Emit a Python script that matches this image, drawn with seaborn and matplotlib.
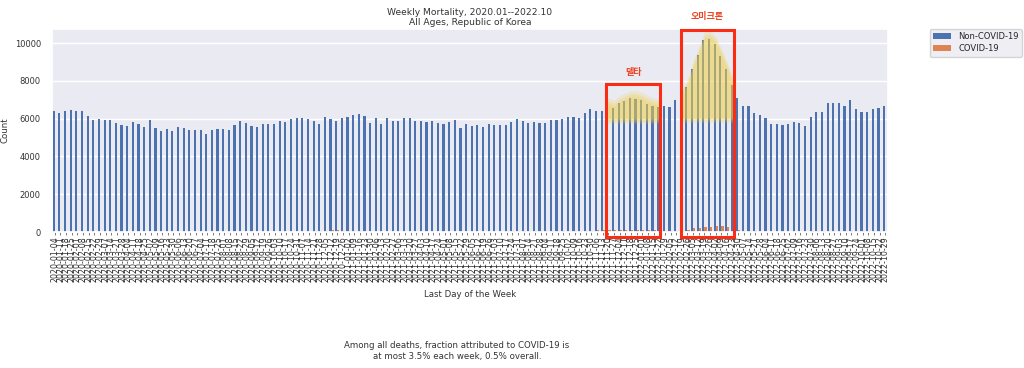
import numpy as np
import pandas as pd
import matplotlib
matplotlib.use("Agg")
import matplotlib.pyplot as plt
import seaborn as sns
from matplotlib.patches import Rectangle

# ---------------- data ----------------
weeks = list(pd.date_range("2020-01-04", periods=148, freq="7D").strftime("%Y-%m-%d"))

non_covid = [
    6410, 6310, 6380, 6450, 6420, 6420, 6140, 5945, 5990, 5945,
    5900, 5775, 5670, 5615, 5830, 5705, 5545, 5945, 5510, 5370,
    5460, 5350, 5565, 5510, 5397, 5397, 5397, 5195, 5390, 5467,
    5450, 5385, 5660, 5880, 5775, 5590, 5573, 5697, 5705, 5740,
    5890, 5820, 5979, 6020, 6030, 5975, 5890, 5740, 6095, 5995,
    5865, 6058, 6060, 6180, 6250, 6130, 5775, 6020, 5740, 6014,
    5860, 5895, 6055, 6020, 5862, 5860, 5830, 5898, 5775, 5740,
    5828, 5900, 5510, 5740, 5615, 5670, 5580, 5705, 5670, 5670,
    5675, 5830, 5985, 5865, 5775, 5828, 5775, 5780, 5944, 5920,
    5960, 6060, 6060, 6058, 6296, 6490, 6415, 6410, 6684, 6561,
    6800, 6930, 7080, 7054, 6966, 6790, 6684, 6620, 6649, 6600,
    6990, 7200, 7660, 8640, 9380, 10180, 10230, 9947, 9310, 8600,
    7795, 7090, 6690, 6690, 6296, 6208, 6032, 5714, 5725, 5660,
    5730, 5802, 5767, 5626, 6085, 6332, 6332, 6843, 6843, 6843,
    6684, 6975, 6500, 6367, 6332, 6500, 6570, 6684,
]

covid = [
    0, 0, 0, 0, 0, 0, 0, 5, 15, 25,
    30, 25, 20, 15, 10, 8, 5, 3, 2, 2,
    1, 1, 2, 2, 3, 3, 3, 2, 2, 2,
    5, 8, 10, 8, 5, 5, 4, 4, 3, 3,
    5, 8, 10, 12, 15, 25, 35, 45, 60, 80,
    90, 75, 55, 40, 30, 25, 20, 15, 12, 10,
    10, 12, 12, 10, 10, 8, 8, 10, 12, 15,
    18, 20, 20, 18, 15, 12, 12, 15, 20, 25,
    30, 35, 40, 45, 45, 40, 35, 30, 30, 35,
    40, 45, 50, 55, 60, 70, 80, 90, 100, 110,
    120, 130, 130, 125, 115, 100, 90, 80, 70, 60,
    50, 40, 90, 200, 220, 260, 270, 300, 320, 290,
    220, 90, 50, 40, 30, 25, 20, 15, 12, 10,
    10, 12, 15, 20, 30, 40, 50, 60, 65, 60,
    55, 50, 45, 40, 35, 30, 28, 25,
]

series_names = ["Non-COVID-19", "COVID-19"]
series_colors = ["#4c72b0", "#dd8452"]

title_text = "Weekly Mortality, 2020.01--2022.10\nAll Ages, Republic of Korea"
note_text = ("Among all deaths, fraction attributed to COVID-19 is\n"
             "at most 3.5% each week, 0.5% overall.")
wave_labels = ["델타", "오미크론"]
delta_weeks = list(range(98, 108))
omicron_weeks = list(range(111, 121))

# ---------------- style ----------------
sns.set_theme(style="darkgrid")
plt.rcParams["font.family"] = ["DejaVu Sans", "Noto Sans CJK KR"]

n = len(weeks)
df = pd.DataFrame({
    "week": weeks * 2,
    "count": non_covid + covid,
    "type": [series_names[0]] * n + [series_names[1]] * n,
})

fig = plt.figure(figsize=(10.24, 3.68), dpi=100)
ax = fig.add_axes([52 / 1024, 1 - 232 / 368, 836 / 1024, 203 / 368])

sns.barplot(data=df, x="week", y="count", hue="type", hue_order=series_names,
            palette=series_colors, saturation=1, width=0.76, errorbar=None,
            linewidth=0, ax=ax)

ymax = max(non_covid) * 1.05
ax.set_xlim(-0.5, n - 0.5)
ax.set_ylim(0, ymax)
ax.set_autoscale_on(False)

ax.set_xlabel("Last Day of the Week", fontsize=6.2, color="#333333")
ax.xaxis.set_label_coords(0.5, -0.285)
ax.set_ylabel("Count", fontsize=6.2, color="#333333")
ax.set_title(title_text, fontsize=6.6, color="#333333", pad=3, linespacing=1.15)
ax.set_yticks([0, 2000, 4000, 6000, 8000, 10000])
ax.tick_params(axis="y", labelsize=6.0, labelcolor="#333333", pad=2)
ax.tick_params(axis="x", labelsize=5.7, labelcolor="#333333", rotation=90,
               bottom=True, length=2, width=0.6, color="#666666", pad=1)
ax.xaxis.grid(False)

# legend outside
handles, labels = ax.get_legend_handles_labels()
ax.legend(handles, labels, bbox_to_anchor=(1.05, 1), loc="upper left",
          borderaxespad=0, fontsize=6.0, frameon=True, handlelength=2.2,
          labelspacing=0.35)

# highlighter over the two waves (derived from the bar heights)
totals = np.array(non_covid, float)


def highlight(idx, x0, x1, base):
    xs = np.array(idx, float)
    ys = totals[idx]
    xf = np.linspace(x0, x1, 300)
    top = np.interp(xf, xs, ys)
    for pad, a in [(100, 0.28), (250, 0.25), (420, 0.2)]:
        ax.fill_between(xf, base - pad * 0.7, top + pad, color="#efd04a",
                        alpha=a, linewidth=0, zorder=3)


highlight(delta_weeks, 97.6, 107.4, 6050)
highlight(omicron_weeks, 110.6, 120.5, 6100)

# red boxes and labels
red = "#fa2d14"
boxes = [(97.65, 107.2, 7830), (110.8, 120.25, 10690)]
for (x0, x1, ytop), lab, ylab in zip(boxes, wave_labels, [8450, 11380]):
    ax.add_patch(Rectangle((x0, -280), x1 - x0, ytop + 280, fill=False,
                           edgecolor=red, linewidth=2.2, zorder=5,
                           clip_on=False))
    ax.text((x0 + x1) / 2, ylab, lab, color="#f0401e", fontsize=6.5,
            fontweight="bold", ha="center", va="center",
            family=["Noto Sans CJK KR", "DejaVu Sans"], clip_on=False)

ax.set_xlim(-0.5, n - 0.5)
ax.set_ylim(0, ymax)

fig.text(457 / 1024, 1 - 351 / 368, note_text, ha="center", va="center",
         fontsize=6.2, color="#333333", linespacing=1.2)

fig.savefig("out.png", dpi=100)
